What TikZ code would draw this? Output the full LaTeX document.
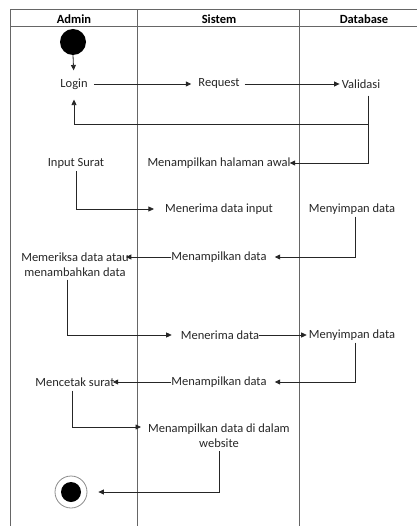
\documentclass[tikz,border=0pt]{standalone}
\usepackage{fontspec}
\setmainfont{Carlito}
\usetikzlibrary{arrows.meta,calc}
\tikzset{
  txt/.style={inner sep=0pt,font=\fontsize{12.5}{15}\selectfont,align=center,text=black!85},
  hdr/.style={inner sep=0pt,font=\fontsize{12.5}{15}\selectfont\bfseries},
  lane/.style={draw=black!60,line width=1pt},
  arr/.style={draw=black!85,line width=0.8pt,-{Triangle[length=5.5pt,width=5pt]}},
}
\begin{document}
\begin{tikzpicture}[x=1pt,y=-1pt]
\useasboundingbox (0,0) rectangle (417,526);
% swimlane frame
\draw[lane] (10,526) -- (10,10) -- (417,10);
\draw[lane] (10,27) -- (417,27);
\draw[lane] (137,10) -- (137,526);
\draw[lane] (299,10) -- (299,526);
\node[hdr] (hA) at (74,19) {Admin};
\node[hdr] (hS) at (219,19) {Sistem};
\node[hdr] (hD) at (364,19) {Database};
% nodes
\node[circle,fill=black,minimum size=26pt,inner sep=0pt] (start) at (73,42) {};
\node[txt] (login) at (74,84) {Login};
\node[txt] (request) at (219,84) {Request};
\node[txt] (valid) at (361,84) {Validasi};
\node[txt] (awal) at (219,163) {Menampilkan halaman awal};
\node[txt] (input) at (76,163) {Input Surat};
\node[txt] (terima1) at (219,209) {Menerima data input};
\node[txt] (simpan1) at (352,209) {Menyimpan data};
\node[txt] (tampil1) at (219,257) {Menampilkan data};
\node[txt] (periksa) at (75,264.5) {Memeriksa data atau\\menambahkan data};
\node[txt] (terima2) at (220,335) {Menerima data};
\node[txt] (simpan2) at (352,335) {Menyimpan data};
\node[txt] (tampil2) at (219,382) {Menampilkan data};
\node[txt] (cetak) at (75,382) {Mencetak surat};
\node[txt] (web) at (219,436) {Menampilkan data di dalam\\website};
\node[circle,draw=black!45,line width=0.8pt,minimum size=32pt,inner sep=0pt] (end) at (71,492) {};
\node[circle,fill=black,minimum size=20pt,inner sep=0pt] (endin) at (end.center) {};
% helper coordinates
\coordinate (b1) at (368,124);
\coordinate (webin) at (141,427);
% connectors
\draw[arr,shorten >=8pt] (start.south) -- (login.north);
\draw[arr,shorten <=6pt,shorten >=7pt] (login.east) -- (request.west);
\draw[arr,shorten <=5pt,shorten >=2pt] (request.east) -- (valid.west);
\draw[arr,shorten <=7pt,shorten >=10pt] (valid.south -| b1) -- (b1) -| (login.south);
\draw[arr,shorten >=-1pt] (b1) |- (awal.east);
\draw[arr,shorten <=3pt,shorten >=11pt] (input.south) |- (terima1.west);
\draw[arr,shorten <=2pt,shorten >=8pt] ([xshift=3pt]simpan1.south) |- (tampil1.east);
\draw[arr,shorten >=-3pt] (tampil1.west) -- (tampil1.west -| periksa.east);
\draw[arr,shorten <=3pt,shorten >=9pt] ([xshift=-8pt]periksa.south) |- (terima2.west);
\draw[arr,shorten >=2pt] (terima2.east) -- (simpan2.west);
\draw[arr,shorten <=2pt,shorten >=8pt] ([xshift=3pt]simpan2.south) |- (tampil2.east);
\draw[arr,shorten >=-2pt] (tampil2.west) -- (cetak.east);
\draw[arr,shorten <=4pt] ([xshift=-3pt]cetak.south) |- (webin);
\draw[arr,shorten <=3pt,shorten >=11pt] (web.south) |- (end.east);
\end{tikzpicture}
\end{document}
